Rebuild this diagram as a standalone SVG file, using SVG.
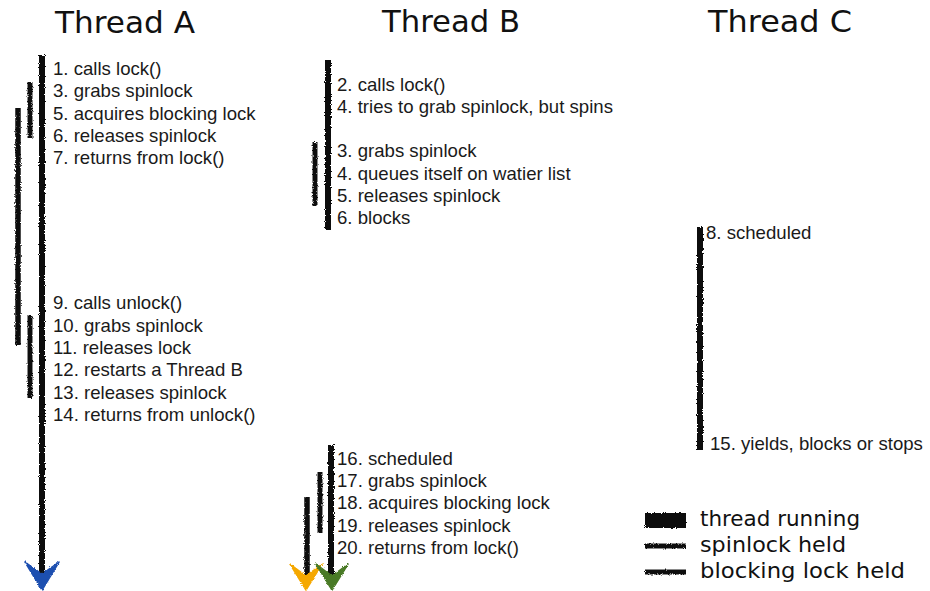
<svg xmlns="http://www.w3.org/2000/svg" width="930" height="591" viewBox="0 0 930 591">
  <defs>
    <!-- crayon-like roughness for the timeline strokes -->
    <filter id="rough" filterUnits="userSpaceOnUse" x="0" y="0" width="930" height="591">
      <feTurbulence type="fractalNoise" baseFrequency="0.9" numOctaves="2" seed="3" result="noise"/>
      <feDisplacementMap in="SourceGraphic" in2="noise" scale="3" xChannelSelector="R" yChannelSelector="G"/>
    </filter>
    <style>
      .hand { font-family: "DejaVu Sans", "Noto Sans", sans-serif; fill: #111; }
      .head { font-size: 30px; }
      .legend-text { font-size: 21px; }
      .step { font-family: "Liberation Sans", Arial, sans-serif; font-size: 18.6px; fill: #1a1a1a; }
      .run { stroke: #111; stroke-width: 6; fill: none; filter: url(#rough); }
      .spin { stroke: #111; stroke-width: 5; fill: none; filter: url(#rough); }
      .block { stroke: #111; stroke-width: 5.5; fill: none; filter: url(#rough); }
      .tip { stroke-width: 1.5; stroke-linejoin: round; filter: url(#rough); }
    </style>
  </defs>

  <rect width="930" height="591" fill="#ffffff"/>

  <!-- column headings -->
  <g id="headings" class="hand head">
    <text x="55" y="33" textLength="140" lengthAdjust="spacingAndGlyphs">Thread A</text>
    <text x="382" y="32" textLength="138" lengthAdjust="spacingAndGlyphs">Thread B</text>
    <text x="708" y="32" textLength="144" lengthAdjust="spacingAndGlyphs">Thread C</text>
  </g>

  <!-- timelines: running / spinlock / blocking lock bars and their arrow tips -->
  <g id="connectors">
    <!-- Thread A -->
    <line class="run" x1="42" y1="55" x2="42" y2="576"/>
    <line class="spin" x1="30" y1="82" x2="30" y2="138"/>
    <line class="block" x1="18" y1="108" x2="18" y2="345"/>
    <line class="spin" x1="30" y1="315" x2="30" y2="398"/>
    <path class="tip" d="M25,562 L42,574 L59,562 L42,590 Z" fill="#1f4fb0" stroke="#1f4fb0"/>

    <!-- Thread B, first part -->
    <line class="run" x1="328" y1="60" x2="328" y2="230"/>
    <line class="spin" x1="315" y1="142" x2="315" y2="206"/>

    <!-- Thread B, after being restarted -->
    <line class="run" x1="331" y1="445" x2="331" y2="576"/>
    <line class="spin" x1="320" y1="472" x2="320" y2="533"/>
    <line class="block" x1="307" y1="497" x2="307" y2="576"/>
    <path class="tip" d="M290,564 L306,576 L322,564 L306,590 Z" fill="#f5a800" stroke="#f5a800"/>
    <path class="tip" d="M316,564 L332,576 L348,564 L332,590 Z" fill="#4a7a25" stroke="#4a7a25"/>

    <!-- Thread C -->
    <line class="run" x1="700" y1="227" x2="700" y2="450"/>
  </g>

  <!-- Thread A steps -->
  <g id="thread-a" class="step">
    <text x="53" y="75">1. calls lock()</text>
    <text x="53" y="97">3. grabs spinlock</text>
    <text x="53" y="119.5">5. acquires blocking lock</text>
    <text x="53" y="142">6. releases spinlock</text>
    <text x="53" y="164">7. returns from lock()</text>
    <text x="53" y="309">9. calls unlock()</text>
    <text x="53" y="332">10. grabs spinlock</text>
    <text x="53" y="354">11. releases lock</text>
    <text x="53" y="376">12. restarts a Thread B</text>
    <text x="53" y="399">13. releases spinlock</text>
    <text x="53" y="421">14. returns from unlock()</text>
  </g>

  <!-- Thread B steps -->
  <g id="thread-b" class="step">
    <text x="337" y="91">2. calls lock()</text>
    <text x="337" y="113">4. tries to grab spinlock, but spins</text>
    <text x="337" y="157">3. grabs spinlock</text>
    <text x="337" y="180">4. queues itself on watier list</text>
    <text x="337" y="202">5. releases spinlock</text>
    <text x="337" y="224">6. blocks</text>
    <text x="337" y="465">16. scheduled</text>
    <text x="337" y="487">17. grabs spinlock</text>
    <text x="337" y="509">18. acquires blocking lock</text>
    <text x="337" y="532">19. releases spinlock</text>
    <text x="337" y="554">20. returns from lock()</text>
  </g>

  <!-- Thread C steps -->
  <g id="thread-c" class="step">
    <text x="706" y="239">8. scheduled</text>
    <text x="710" y="450">15. yields, blocks or stops</text>
  </g>

  <!-- key -->
  <g id="legend">
    <rect x="645" y="513" width="41" height="15" fill="#111" filter="url(#rough)"/>
    <line class="spin" x1="645" y1="546" x2="686" y2="546"/>
    <line class="spin" x1="645" y1="572" x2="686" y2="572"/>
    <g class="hand legend-text">
      <text x="700" y="526" textLength="160" lengthAdjust="spacingAndGlyphs">thread running</text>
      <text x="700" y="552" textLength="146" lengthAdjust="spacingAndGlyphs">spinlock held</text>
      <text x="700" y="578" textLength="205" lengthAdjust="spacingAndGlyphs">blocking lock held</text>
    </g>
  </g>
</svg>
